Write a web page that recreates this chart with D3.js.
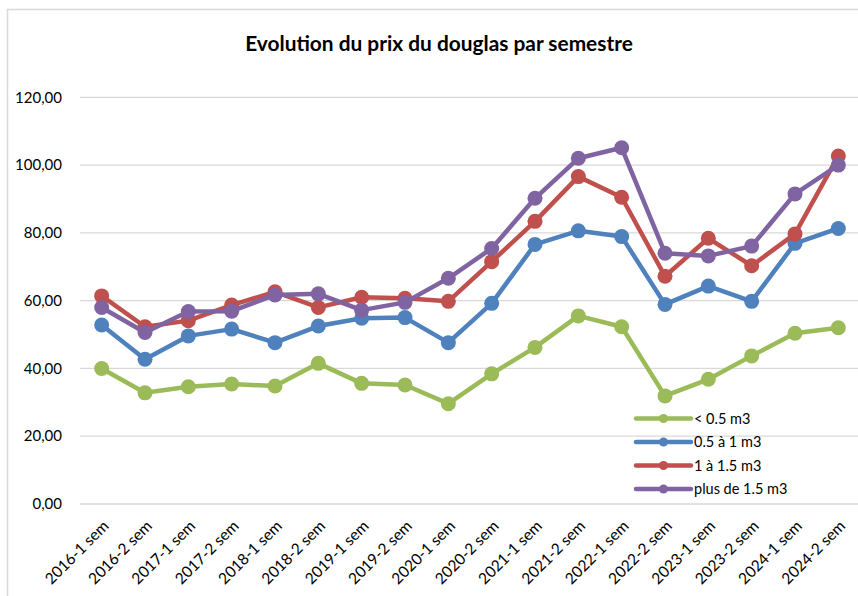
<!DOCTYPE html>
<html>
<head>
<meta charset="utf-8">
<script src="https://cdn.jsdelivr.net/npm/d3@7"></script>
<style>
  html, body { margin: 0; padding: 0; background: #fff; }
  svg { display: block; font-family: Lato, "Open Sans", sans-serif; }
</style>
</head>
<body>
<svg id="chart" width="858" height="596"></svg>
<script>
const categories = ["2016-1 sem","2016-2 sem","2017-1 sem","2017-2 sem","2018-1 sem","2018-2 sem","2019-1 sem","2019-2 sem","2020-1 sem","2020-2 sem","2021-1 sem","2021-2 sem","2022-1 sem","2022-2 sem","2023-1 sem","2023-2 sem","2024-1 sem","2024-2 sem"];
const seriesNames = ["< 0.5 m3", "0.5 à 1 m3", "1 à 1.5 m3", "plus de 1.5 m3"];
const under05 = [40.0, 32.8, 34.6, 35.4, 34.8, 41.5, 35.6, 35.1, 29.6, 38.4, 46.2, 55.5, 52.3, 31.9, 36.8, 43.7, 50.4, 52.0];
const from05to1 = [52.8, 42.7, 49.6, 51.6, 47.6, 52.5, 54.8, 55.0, 47.6, 59.2, 76.6, 80.6, 78.9, 58.9, 64.3, 59.8, 76.9, 81.3];
const from1to15 = [61.4, 52.3, 54.1, 58.7, 62.6, 58.0, 61.0, 60.7, 59.8, 71.5, 83.4, 96.6, 90.5, 67.2, 78.4, 70.3, 79.7, 102.7];
const over15 = [58.0, 50.6, 56.8, 56.9, 61.7, 62.0, 57.2, 59.5, 66.6, 75.4, 90.2, 102.0, 105.1, 74.0, 73.2, 76.1, 91.5, 100.0];
const yTicks = [0, 20, 40, 60, 80, 100, 120];
const colors = ["#9BBB59", "#4F81BD", "#C0504D", "#8064A2"];
const title = "Evolution du prix du douglas par semestre";

const allSeries = [under05, from05to1, from1to15, over15];

const svg = d3.select("#chart");

// chart border (left and top visible)
svg.append("path")
  .attr("d", "M7.5,596 L7.5,9.5 L858,9.5")
  .attr("fill", "none").attr("stroke", "#d9d9d9").attr("stroke-width", 1.5);

const x = d3.scalePoint().domain(categories).range([80, 860]).padding(0.5);
const y = d3.scaleLinear().domain([0, 120]).range([504, 97.3]);

// gridlines
svg.append("g").selectAll("line").data(yTicks).join("line")
  .attr("x1", 80).attr("x2", 860)
  .attr("y1", d => y(d)).attr("y2", d => y(d))
  .attr("stroke", "#d9d9d9").attr("stroke-width", 1.3);

// y labels
const fmt = d => d.toFixed(2).replace(".", ",");
svg.append("g").selectAll("text").data(yTicks).join("text")
  .attr("x", 62).attr("y", d => y(d))
  .attr("dy", "0.35em")
  .attr("text-anchor", "end")
  .attr("font-size", 15).attr("fill", "#000")
  .text(fmt);

// x labels
svg.append("g").selectAll("text").data(categories).join("text")
  .attr("transform", d => `translate(${x(d) + 8},${527}) rotate(-45)`)
  .attr("text-anchor", "end")
  .attr("font-size", 15.5).attr("fill", "#000")
  .text(d => d);

// series
const line = d3.line().x((d, i) => x(categories[i])).y(d => y(d));
allSeries.forEach((vals, si) => {
  const g = svg.append("g");
  g.append("path").datum(vals)
    .attr("d", line).attr("fill", "none")
    .attr("stroke", colors[si]).attr("stroke-width", 4.5)
    .attr("stroke-linejoin", "round");
  g.selectAll("circle").data(vals).join("circle")
    .attr("cx", (d, i) => x(categories[i])).attr("cy", d => y(d))
    .attr("r", 7.5).attr("fill", colors[si]);
});

// legend
const legendY = [418.5, 442, 465.5, 489];
const lg = svg.append("g");
seriesNames.forEach((name, i) => {
  lg.append("line").attr("x1", 636).attr("x2", 691)
    .attr("y1", legendY[i]).attr("y2", legendY[i])
    .attr("stroke", colors[i]).attr("stroke-width", 4.5).attr("stroke-linecap", "round");
  lg.append("circle").attr("cx", 663.5).attr("cy", legendY[i]).attr("r", 4.5).attr("fill", colors[i]);
  lg.append("text").attr("x", 694).attr("y", legendY[i]).attr("dy", "0.35em")
    .attr("font-size", 14.5).attr("fill", "#000").text(name);
});

// title
const t = svg.append("text").attr("x", 439).attr("y", 51)
  .attr("text-anchor", "middle").attr("font-weight", "bold")
  .attr("font-size", 19).attr("fill", "#000").text(title);
const w = t.node().getComputedTextLength();
if (w > 0) t.attr("font-size", 19 * 388 / w);
</script>
</body>
</html>
